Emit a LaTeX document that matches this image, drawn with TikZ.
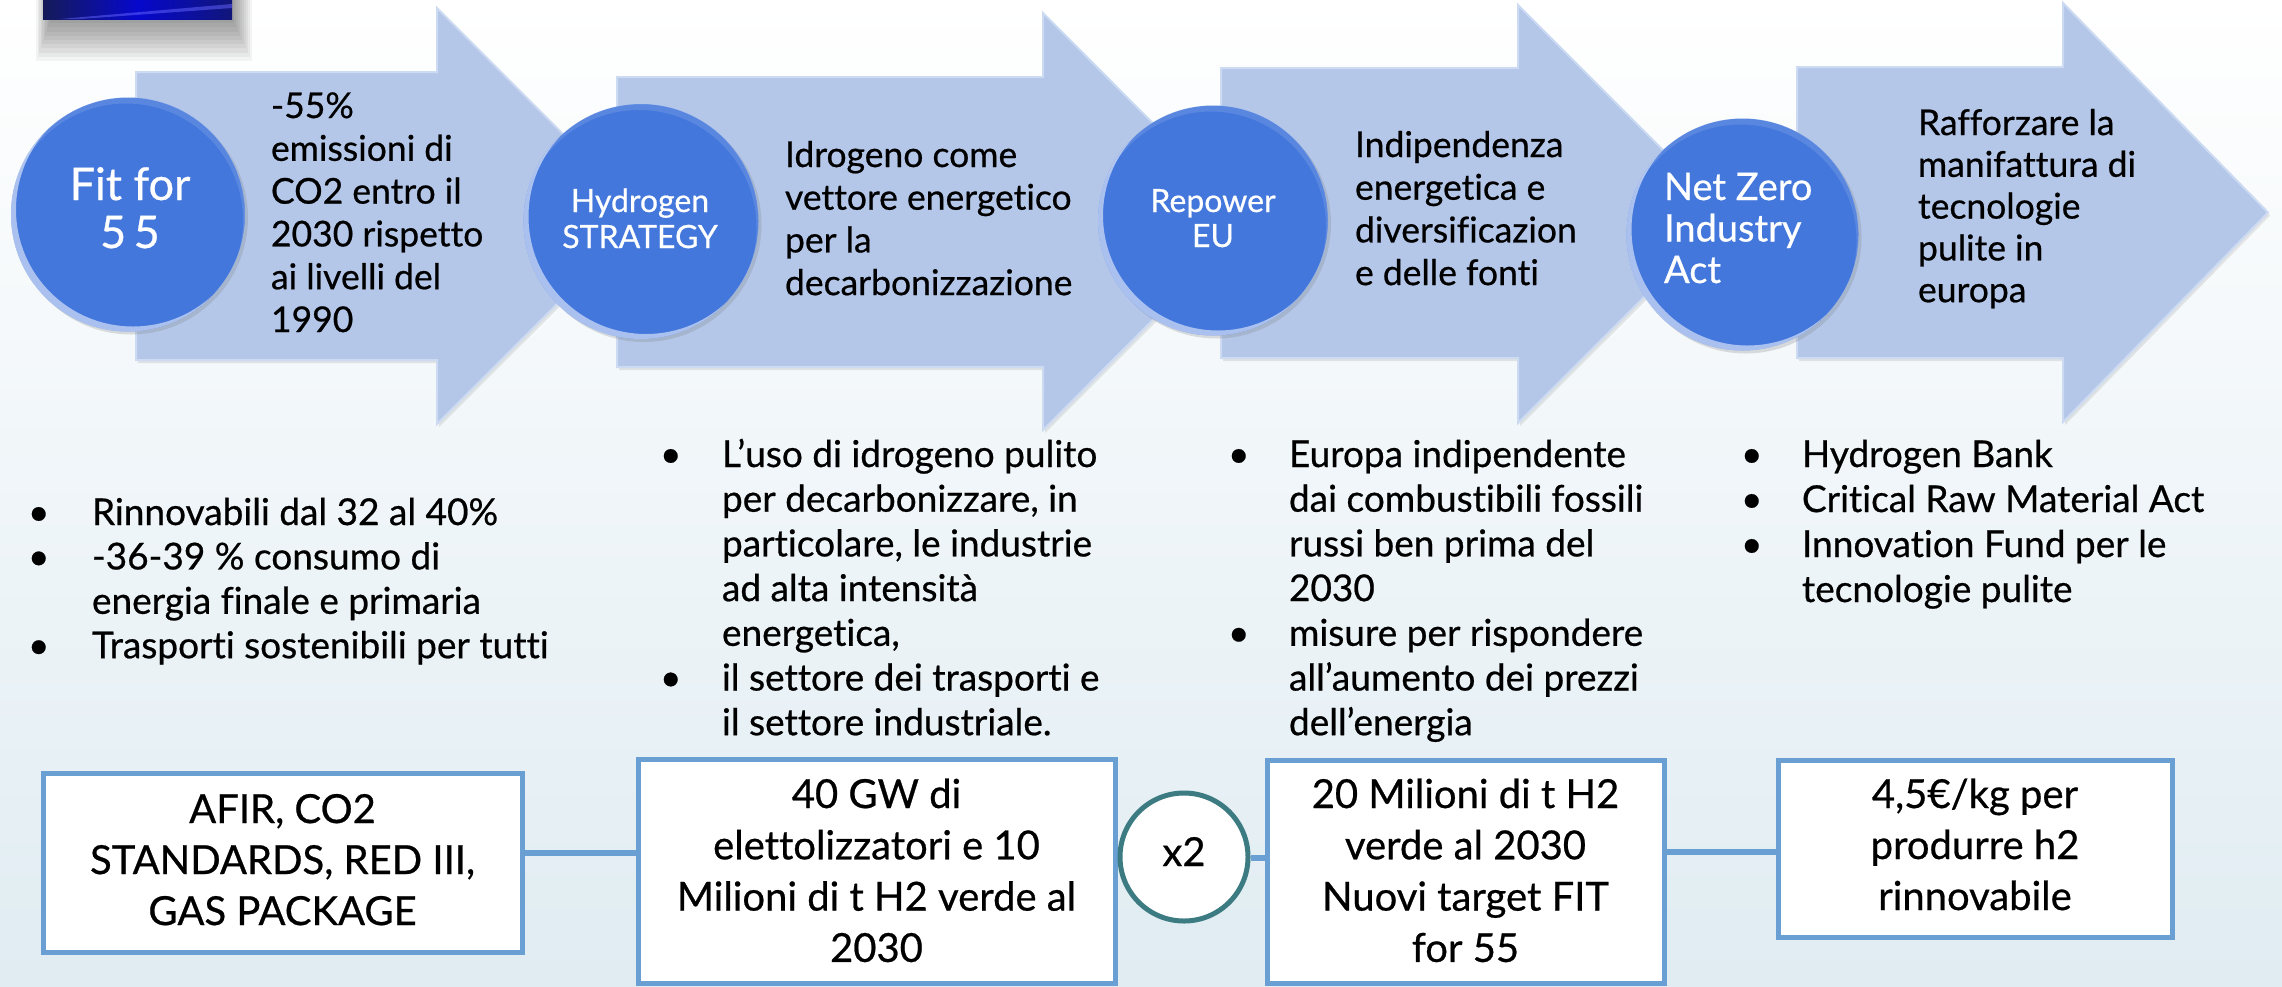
\documentclass[tikz,border=0pt]{standalone}
\usepackage{fontspec}
\setmainfont{Lato}[Ligatures=NoCommon, FakeBold=0.6]
\usetikzlibrary{shadows,calc}
\definecolor{arrowfill}{HTML}{B4C7E9}
\definecolor{arrowedge}{HTML}{CCDAF2}
\definecolor{circfill}{HTML}{4377DC}
\definecolor{boxline}{HTML}{6A9FD4}
\definecolor{xtwoline}{HTML}{3D7B83}
\definecolor{bgbottom}{HTML}{E0ECF2}
\definecolor{navy}{HTML}{151B58}
\newcommand\LeftLines[2]{\vtop{\baselineskip=#1\lineskiplimit=-100pt\halign{##\hfil\cr#2\crcr}}}
\newcommand\CtrLines[2]{\vtop{\baselineskip=#1\lineskiplimit=-100pt\halign{\hfil##\hfil\cr#2\crcr}}}
\newcommand\BulLines[3]{\vtop{\baselineskip=#1\lineskiplimit=-100pt\halign{\hbox to #2{##\hfil}&##\hfil\cr#3\crcr}}}
\tikzset{
  arrowshape/.style={fill=arrowfill, draw=arrowedge, line width=2pt, line join=miter,
     drop shadow={opacity=0.18, shadow xshift=2pt, shadow yshift=-3pt}},
  circ/.style={circle, fill=circfill, inner sep=0pt, draw=none,
     drop shadow={opacity=0.25, shadow xshift=3pt, shadow yshift=-3pt}},
  txt/.style={inner sep=0pt, outer sep=0pt, font=\fontsize{37}{43}\selectfont, text=black},
  atxt/.style={inner sep=0pt, outer sep=0pt, font=\fontsize{35.5}{43}\selectfont, text=black},
  btxt/.style={inner sep=0pt, outer sep=0pt, font=\fontsize{40}{51}\selectfont, text=black},
  ctxt/.style={inner sep=0pt, outer sep=0pt, text=white},
  bx/.style={rectangle, fill=white, draw=boxline, line width=5pt, inner sep=0pt},
  conn/.style={draw=boxline, line width=6pt},
  xtwo/.style={circle, fill=white, draw=xtwoline, line width=5pt, inner sep=0pt},
}
\begin{document}
\begin{tikzpicture}[x=1pt,y=-1pt]
\useasboundingbox (0,0) rectangle (2282,986);
% background
\shade[top color=white, middle color=white!55!bgbottom, bottom color=bgbottom] (0,0) rectangle (2282,986);
% top-left picture with soft shadow
\foreach \i in {1,...,10} {
  \fill[black, opacity=0.045] ({43-1.5*\i+8},0) rectangle ({232+2*\i},{19+4.2*\i});
}
\shade[left color=navy, right color=navy!80!blue, middle color=blue!70!navy] (43,0) rectangle (232,19);
\fill[blue!60!white, opacity=0.5] (60,19) -- (232,4) -- (232,8) -- (80,19) -- cycle;

% arrows
\draw[arrowshape] (136,72) -- (437,72) -- (437,8) -- (645,216) -- (437,424) -- (437,360) -- (136,360) -- cycle;
\draw[arrowshape] (617,77) -- (1043,77) -- (1043,13) -- (1251,221.5) -- (1043,430) -- (1043,367) -- (617,367) -- cycle;
\draw[arrowshape] (1221,68) -- (1518,68) -- (1518,5) -- (1727,214) -- (1518,423) -- (1518,358) -- (1221,358) -- cycle;
\draw[arrowshape] (1797,67) -- (2063,67) -- (2063,3) -- (2268,212.5) -- (2063,422) -- (2063,358) -- (1797,358) -- cycle;

% circles
\node[circ, minimum size=234pt] (c1) at (128,214.5) {};
\node[circ, minimum size=235pt] (c2) at (641,221.5) {};
\node[circ, minimum size=230pt] (c3) at (1213,220.5) {};
\node[circ, minimum size=232pt] (c4) at (1742.5,234.5) {};
\foreach \c/\r in {c1/117,c2/117.5,c3/115,c4/116} {
  \begin{scope}
    \clip (\c.center) circle[radius=\r pt];
    \fill[white, opacity=0.55, even odd rule] (\c.center) circle[radius=\r pt] ([shift={(5,-5)}]\c.center) circle[radius=\r pt];
    \fill[white, opacity=0.12, even odd rule] (\c.center) circle[radius=\r pt] ([shift={(-2,6)}]\c.center) circle[radius=\r pt];
  \end{scope}
}

% circle labels
\node[ctxt, anchor=base, font=\fontsize{45}{48}\selectfont] (c1t) at (130,200) {\CtrLines{48pt}{Fit for\cr 5\,5}};
\node[ctxt, anchor=base, font=\fontsize{32}{36}\selectfont] (c2t) at (640,212) {\CtrLines{36pt}{Hydrogen\cr STRATEGY}};
\node[ctxt, anchor=base, font=\fontsize{32}{36}\selectfont] (c3t) at (1213,212) {\CtrLines{35pt}{Repower\cr EU}};
\node[ctxt, anchor=base west, font=\fontsize{38}{42}\selectfont] (c4t) at (1664,200) {\LeftLines{41.5pt}{Net Zero\cr Industry\cr Act}};

% arrow texts
\node[atxt, anchor=base west] (t1) at (271,118) {\LeftLines{42.8pt}{-55\%\cr emissioni di\cr CO2 entro il\cr 2030 rispetto\cr ai livelli del\cr 1990}};
\node[atxt, anchor=base west] (t2) at (785,167) {\LeftLines{42.7pt}{Idrogeno come\cr vettore energetico\cr per la\cr decarbonizzazione}};
\node[atxt, anchor=base west] (t3) at (1355,157) {\LeftLines{42.7pt}{Indipendenza\cr energetica e\cr diversificazion\cr e delle fonti}};
\node[atxt, anchor=base west] (t4) at (1918,135) {\LeftLines{41.8pt}{Rafforzare la\cr manifattura di\cr tecnologie\cr pulite in\cr europa}};

% bullet lists
\node[txt, anchor=base west] (l1) at (28,525) {\BulLines{44.4pt}{64pt}{\textbullet & Rinnovabili dal 32 al 40\%\cr
  \textbullet & -36-39 \% consumo di\cr & energia finale e primaria\cr \textbullet & Trasporti sostenibili per tutti}};
\node[txt, anchor=base west] (l2) at (660,467) {\BulLines{44.7pt}{62pt}{\textbullet & L’uso di idrogeno pulito\cr
  & per decarbonizzare, in\cr & particolare, le industrie\cr & ad alta intensità\cr & energetica,\cr
  \textbullet & il settore dei trasporti e\cr & il settore industriale.}};
\node[txt, anchor=base west] (l3) at (1228,467) {\BulLines{44.7pt}{61pt}{\textbullet & Europa indipendente\cr
  & dai combustibili fossili\cr & russi ben prima del\cr & 2030\cr
  \textbullet & misure per rispondere\cr & all'aumento dei prezzi\cr & dell’energia}};
\node[txt, anchor=base west] (l4) at (1741,467) {\BulLines{45pt}{61pt}{\textbullet & Hydrogen Bank\cr
  \textbullet & Critical Raw Material Act\cr \textbullet & Innovation Fund per le\cr & tecnologie pulite}};

% connectors and bottom boxes
\node[bx, minimum width=479pt, minimum height=179pt] (b1) at (282.5,862.5) {};
\node[bx, minimum width=477pt, minimum height=224pt] (b2) at (876.5,871) {};
\node[xtwo, minimum size=128pt] (x2) at (1184,857) {};
\node[bx, minimum width=397pt, minimum height=223pt] (b3) at (1465.5,871.5) {};
\node[bx, minimum width=394pt, minimum height=177pt] (b4) at (1975,848.5) {};
\draw[conn] ([yshift=9.5pt]b1.east) -- ([yshift=18pt]b2.west);
\draw[conn] ([yshift=-1pt]x2.east) -- ([yshift=13.5pt]b3.west);
\draw[conn] ([yshift=19.5pt]b3.east) -- ([yshift=-3.5pt]b4.west);

\node[btxt, anchor=base] (b1t) at (282.5,823) {\CtrLines{51pt}{AFIR, CO2\cr STANDARDS, RED III,\cr GAS PACKAGE}};
\node[btxt, anchor=base] (b2t) at (876.5,808) {\CtrLines{51.3pt}{40 GW di\cr elettolizzatori e 10\cr Milioni di t H2 verde al\cr 2030}};
\node[btxt, anchor=base] (x2t) at (1184,866) {x2};
\node[btxt, anchor=base] (b3t) at (1465.5,808) {\CtrLines{51.3pt}{20 Milioni di t H2\cr verde al 2030\cr Nuovi target FIT\cr for 55}};
\node[btxt, anchor=base] (b4t) at (1975,808) {\CtrLines{51pt}{4,5€/kg per\cr produrre h2\cr rinnovabile}};
\end{tikzpicture}
\end{document}
